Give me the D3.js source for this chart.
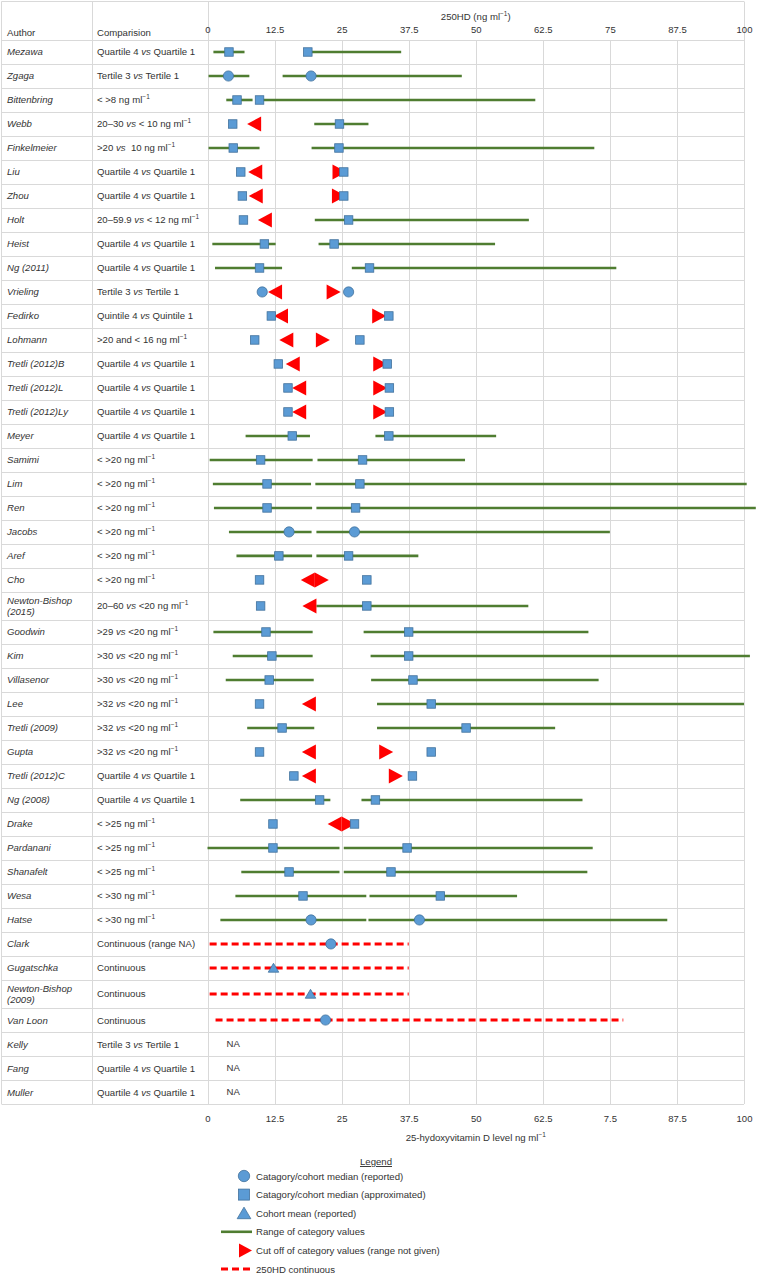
<!DOCTYPE html>
<html><head><meta charset="utf-8">
<script src="https://cdn.jsdelivr.net/npm/d3@7"></script>
<style>
body{margin:0;background:#fff}
text{font-family:"Liberation Sans",Arial,Helvetica,sans-serif;fill:#333;white-space:pre}
</style>
</head><body>
<svg id="c" width="762" height="1276"></svg>
<script>
// ---------------- DATA ----------------
const authors = ["Mezawa","Zgaga","Bittenbring","Webb","Finkelmeier","Liu","Zhou","Holt","Heist","Ng (2011)",
  "Vrieling","Fedirko","Lohmann","Tretli (2012)B","Tretli (2012)L","Tretli (2012)Ly","Meyer","Samimi","Lim","Ren",
  "Jacobs","Aref","Cho","Newton-Bishop|(2015)","Goodwin","Kim","Villasenor","Lee","Tretli (2009)","Gupta",
  "Tretli (2012)C","Ng (2008)","Drake","Pardanani","Shanafelt","Wesa","Hatse","Clark","Gugatschka","Newton-Bishop|(2009)",
  "Van Loon","Kelly","Fang","Muller"];

const comparisons = ["Quartile 4 vs Quartile 1","Tertile 3 vs Tertile 1","< >8 ng ml-1","20–30 vs < 10 ng ml-1",">20 vs  10 ng ml-1",
  "Quartile 4 vs Quartile 1","Quartile 4 vs Quartile 1","20–59.9 vs < 12 ng ml-1","Quartile 4 vs Quartile 1","Quartile 4 vs Quartile 1",
  "Tertile 3 vs Tertile 1","Quintile 4 vs Quintile 1",">20 and < 16 ng ml-1","Quartile 4 vs Quartile 1","Quartile 4 vs Quartile 1",
  "Quartile 4 vs Quartile 1","Quartile 4 vs Quartile 1","< >20 ng ml-1","< >20 ng ml-1","< >20 ng ml-1",
  "< >20 ng ml-1","< >20 ng ml-1","< >20 ng ml-1","20–60 vs <20 ng ml-1",">29 vs <20 ng ml-1",
  ">30 vs <20 ng ml-1",">30 vs <20 ng ml-1",">32 vs <20 ng ml-1",">32 vs <20 ng ml-1",">32 vs <20 ng ml-1",
  "Quartile 4 vs Quartile 1","Quartile 4 vs Quartile 1","< >25 ng ml-1","< >25 ng ml-1","< >25 ng ml-1",
  "< >30 ng ml-1","< >30 ng ml-1","Continuous (range NA)","Continuous","Continuous",
  "Continuous","Tertile 3 vs Tertile 1","Quartile 4 vs Quartile 1","Quartile 4 vs Quartile 1"];

const markerShape = ["square","circle","square","square","square","square","square","square","square","square",
  "circle","square","square","square","square","square","square","square","square","square",
  "circle","square","square","square","square","square","square","square","square","square",
  "square","square","square","square","square","square","circle","circle","triangle","triangle",
  "circle",null,null,null];

const lowMedian = [4.0,3.9,5.5,4.7,4.8,6.2,6.5,6.7,10.6,9.7,
  10.2,11.9,8.8,13.2,15.0,15.0,15.8,9.9,11.1,11.1,
  15.2,13.3,9.7,9.9,10.9,12.0,11.5,9.7,13.9,9.7,
  16.1,20.9,12.2,12.2,15.2,17.8,19.3,23.0,12.3,19.2,
  22.0,null,null,null];

const highMedian = [18.7,19.3,9.7,24.6,24.5,25.4,25.4,26.3,23.6,30.2,
  26.3,33.8,28.4,33.5,33.9,33.9,33.8,28.9,28.4,27.6,
  27.4,26.3,29.7,29.7,37.5,37.5,38.3,41.7,48.2,41.7,
  38.2,31.3,27.4,37.2,34.2,43.4,39.5,null,null,null,
  null,null,null,null];

const lowRange = [[1.1,6.9],[0.2,7.8],[3.5,8.4],null,[0.2,9.7],null,null,null,[0.9,12.7],[1.4,13.9],
  null,null,null,null,null,null,[7.1,19.1],[0.4,19.6],[1.0,19.3],[1.2,19.5],
  [4.0,19.4],[5.4,19.5],null,null,[1.1,19.6],[4.7,19.6],[3.4,19.8],null,[7.4,19.9],null,
  null,[6.1,22.9],null,[0.0,24.6],[6.3,24.6],[5.2,29.6],[2.4,29.6],null,null,null,
  null,null,null,null];

const highRange = [[18.5,36.1],[14.0,47.4],[9.5,61.1],[19.9,30.0],[19.4,72.1],null,null,[20.0,59.9],[20.7,53.6],[26.9,76.2],
  null,null,null,null,null,null,[31.3,53.8],[20.5,48.0],[20.1,100.5],[20.3,102.2],
  [20.3,75.0],[20.3,39.3],null,[20.3,59.8],[29.1,71.0],[30.4,101.1],[30.5,72.9],[31.6,100.0],[31.6,64.8],null,
  null,[28.7,69.9],null,[25.4,71.8],[25.4,70.8],[30.2,57.7],[30.0,85.7],null,null,null,
  null,null,null,null];

const lowCutoff = [null,null,null,10,null,10.2,10.3,12,null,null,
  13.9,15.0,16,17.2,18.4,18.4,null,null,null,null,
  null,null,20,20.3,null,null,null,20.2,null,20.2,
  20.2,null,25,null,null,null,null,null,null,null,
  null,null,null,null];

const highCutoff = [null,null,null,null,null,23.3,23.2,null,null,null,
  22.2,30.7,20.2,30.9,30.9,30.9,null,null,null,null,
  null,null,20,null,null,null,null,null,null,32.0,
  33.8,null,25,null,null,null,null,null,null,null,
  null,null,null,null];

const continuousRange = [null,null,null,null,null,null,null,null,null,null,
  null,null,null,null,null,null,null,null,null,null,
  null,null,null,null,null,null,null,null,null,null,
  null,null,null,null,null,null,null,[0.4,37.5],[0.4,37.5],[0.4,37.5],
  [1.5,77.5],null,null,null];

const tickValues = [0,12.5,25,37.5,50,62.5,75,87.5,100];
const topTickLabels = ["0","12.5","25","37.5","50","62.5","75","87.5","100"];
const bottomTickLabels = ["0","12.5","25","37.5","50","62.5","7.5","87.5","100"];

const legendItems = [
  {kind:"circle", label:"Catagory/cohort median (reported)"},
  {kind:"square", label:"Catagory/cohort median (approximated)"},
  {kind:"triangle", label:"Cohort mean (reported)"},
  {kind:"range", label:"Range of category values"},
  {kind:"cutoff", label:"Cut off of category values (range not given)"},
  {kind:"continuous", label:"250HD continuous"}
];

// ---------------- LAYOUT ----------------
const svg = d3.select("#c");
const FS = 9.6;
const BLUE = "#5b9bd5", BLUE_S = "#41719c", GREEN = "#4f7d31", RED = "#ff0000", GRID = "#d9d9d9";
const tableTop = 40, tableBottom = 1104, frameTop = 1.5, leftEdge = 1.5, colSep = 92.5;

const x = d3.scaleLinear().domain([0,100]).range([207.5,744]);

const units = authors.map(a => a.includes("|") ? 1.17 : 1);
const cum = [0]; units.forEach((u,i)=>cum.push(cum[i]+u));
const yU = d3.scaleLinear().domain([0, cum[cum.length-1]]).range([tableTop, tableBottom]);
const rowTop = i => yU(cum[i]);
const rowBot = i => yU(cum[i+1]);
const rowMid = i => (rowTop(i)+rowBot(i))/2;

// grid
const g0 = svg.append("g");
g0.append("line").attr("x1",leftEdge).attr("x2",x(100)).attr("y1",frameTop).attr("y2",frameTop).attr("stroke",GRID);
g0.append("line").attr("x1",leftEdge).attr("x2",leftEdge).attr("y1",frameTop).attr("y2",tableBottom).attr("stroke",GRID);
g0.append("line").attr("x1",colSep).attr("x2",colSep).attr("y1",frameTop).attr("y2",tableBottom).attr("stroke",GRID);
g0.selectAll("line.v").data(tickValues).enter().append("line").attr("class","v")
  .attr("x1",d=>Math.round(x(d))+0.5).attr("x2",d=>Math.round(x(d))+0.5)
  .attr("y1",d=>(d===0||d===100)?frameTop:tableTop).attr("y2",tableBottom)
  .attr("stroke",GRID);
const hLines = cum.map((c,i)=>i);
g0.selectAll("line.h").data(hLines).enter().append("line").attr("class","h")
  .attr("x1",leftEdge).attr("x2",x(100))
  .attr("y1",i=>Math.round(yU(cum[i]))+0.5).attr("y2",i=>Math.round(yU(cum[i]))+0.5)
  .attr("stroke",GRID);

// axes
const topAxis = d3.axisTop(x).tickValues(tickValues).tickFormat((d,i)=>topTickLabels[i]).tickSize(0).tickPadding(3);
const ta = svg.append("g").attr("transform","translate(0,36)").call(topAxis);
ta.select(".domain").remove();
ta.selectAll("text").style("font-size","9.5px").style("font-family",'"Liberation Sans",Arial,sans-serif').attr("fill","#333");

const botAxis = d3.axisBottom(x).tickValues(tickValues).tickFormat((d,i)=>bottomTickLabels[i]).tickSize(0).tickPadding(11);
const ba = svg.append("g").attr("transform",`translate(0,${tableBottom})`).call(botAxis);
ba.select(".domain").remove();
ba.selectAll("text").style("font-size","9.5px").style("font-family",'"Liberation Sans",Arial,sans-serif').attr("fill","#333");

function addUnit(t, base){
  t.append("tspan").text(base);
  t.append("tspan").attr("dy",-4).style("font-size","6.5px").text("−1");
}

// titles
const tt = svg.append("text").attr("x",x(50)).attr("y",20).attr("text-anchor","middle").style("font-size",FS+"px");
tt.append("tspan").text("250HD (ng ");
addUnit(tt,"ml");
tt.append("tspan").attr("dy",4).text(")");

const bt = svg.append("text").attr("x",x(50)).attr("y",1141).attr("text-anchor","middle").style("font-size",FS+"px");
bt.append("tspan").text("25-hydoxyvitamin D level ng ");
addUnit(bt,"ml");

svg.append("text").attr("x",7).attr("y",36).style("font-size",FS+"px").text("Author");
svg.append("text").attr("x",97).attr("y",36).style("font-size",FS+"px").text("Comparision");

// table text
authors.forEach((a,i)=>{
  const parts = a.split("|");
  const t = svg.append("text").attr("x",7).style("font-size",FS+"px").style("font-style","italic");
  if(parts.length===1){ t.attr("y",rowMid(i)+3.5).text(a); }
  else {
    t.attr("y",rowMid(i)-2);
    t.append("tspan").attr("x",7).text(parts[0]);
    t.append("tspan").attr("x",7).attr("dy",11).text(parts[1]);
  }
  const c = svg.append("text").attr("x",97).attr("y",rowMid(i)+3.5).style("font-size",FS+"px");
  comparisons[i].split(/( vs |ml-1)/).forEach(p=>{
    if(p===" vs ") c.append("tspan").style("font-style","italic").text(" vs ");
    else if(p==="ml-1") addUnit(c,"ml");
    else if(p.length) c.append("tspan").text(p);
  });
});

// marks
const marks = svg.append("g");
const idx = d3.range(authors.length);

// continuous dashed
marks.selectAll("line.cont").data(idx.filter(i=>continuousRange[i])).enter().append("line")
  .attr("x1",i=>x(continuousRange[i][0])).attr("x2",i=>x(continuousRange[i][1]))
  .attr("y1",rowMid).attr("y2",rowMid)
  .attr("stroke",RED).attr("stroke-width",3).attr("stroke-dasharray","7,4");

// ranges
const rangeData = [];
idx.forEach(i=>{ if(lowRange[i]) rangeData.push([i,lowRange[i]]); if(highRange[i]) rangeData.push([i,highRange[i]]); });
marks.selectAll("line.rng").data(rangeData).enter().append("line")
  .attr("x1",d=>x(d[1][0])).attr("x2",d=>x(d[1][1]))
  .attr("y1",d=>rowMid(d[0])).attr("y2",d=>rowMid(d[0]))
  .attr("stroke",GREEN).attr("stroke-width",2.6);

// cutoffs
const TW = 14, TH = 7.5;
const cutData = [];
idx.forEach(i=>{ if(lowCutoff[i]!=null) cutData.push([i,lowCutoff[i],-1]); if(highCutoff[i]!=null) cutData.push([i,highCutoff[i],1]); });
marks.selectAll("path.cut").data(cutData).enter().append("path")
  .attr("d",d=>{const cx=x(d[1]), cy=rowMid(d[0]); return `M${cx},${cy-TH}L${cx},${cy+TH}L${cx+d[2]*TW},${cy}Z`;})
  .attr("fill",RED);

// medians
function drawMarker(sel, shape, cx, cy, size){
  if(shape==="circle") sel.append("circle").attr("cx",cx).attr("cy",cy).attr("r",size*0.6)
    .attr("fill",BLUE).attr("stroke",BLUE_S).attr("stroke-width",0.8);
  else if(shape==="square") sel.append("rect").attr("x",cx-size/2).attr("y",cy-size/2).attr("width",size).attr("height",size)
    .attr("fill",BLUE).attr("stroke",BLUE_S).attr("stroke-width",0.8);
  else if(shape==="triangle") sel.append("path")
    .attr("d",`M${cx-size*0.62},${cy+size*0.5}L${cx+size*0.62},${cy+size*0.5}L${cx},${cy-size*0.55}Z`)
    .attr("fill",BLUE).attr("stroke",BLUE_S).attr("stroke-width",0.8);
}
idx.forEach(i=>{
  const s = markerShape[i]; if(!s) return;
  if(lowMedian[i]!=null) drawMarker(marks, s, x(lowMedian[i]), rowMid(i), 8.5);
  if(highMedian[i]!=null) drawMarker(marks, s, x(highMedian[i]), rowMid(i), 8.5);
});

// NA
idx.filter(i=>!markerShape[i]).forEach(i=>{
  svg.append("text").attr("x",x(0)+19).attr("y",rowMid(i)+3).style("font-size",FS+"px").text("NA");
});

// legend
const lg = svg.append("g");
lg.append("text").attr("x",376).attr("y",1165).attr("text-anchor","middle").style("font-size",FS+"px")
  .style("text-decoration","underline").text("Legend");
const ly = d3.scalePoint().domain(d3.range(legendItems.length)).range([1176,1269]);
legendItems.forEach((it,k)=>{
  const cy = ly(k);
  if(it.kind==="circle"||it.kind==="square"||it.kind==="triangle") drawMarker(lg, it.kind, 244, cy, it.kind==="circle"?9.5:11);
  else if(it.kind==="range") lg.append("line").attr("x1",221).attr("x2",252).attr("y1",cy).attr("y2",cy).attr("stroke",GREEN).attr("stroke-width",2.6);
  else if(it.kind==="cutoff") lg.append("path").attr("d",`M239,${cy-7}L239,${cy+7}L252,${cy}Z`).attr("fill",RED);
  else lg.append("line").attr("x1",221).attr("x2",252).attr("y1",cy).attr("y2",cy).attr("stroke",RED).attr("stroke-width",3).attr("stroke-dasharray","7,4");
  lg.append("text").attr("x",256).attr("y",cy+3.5).style("font-size",FS+"px").text(it.label);
});
</script>
</body></html>
